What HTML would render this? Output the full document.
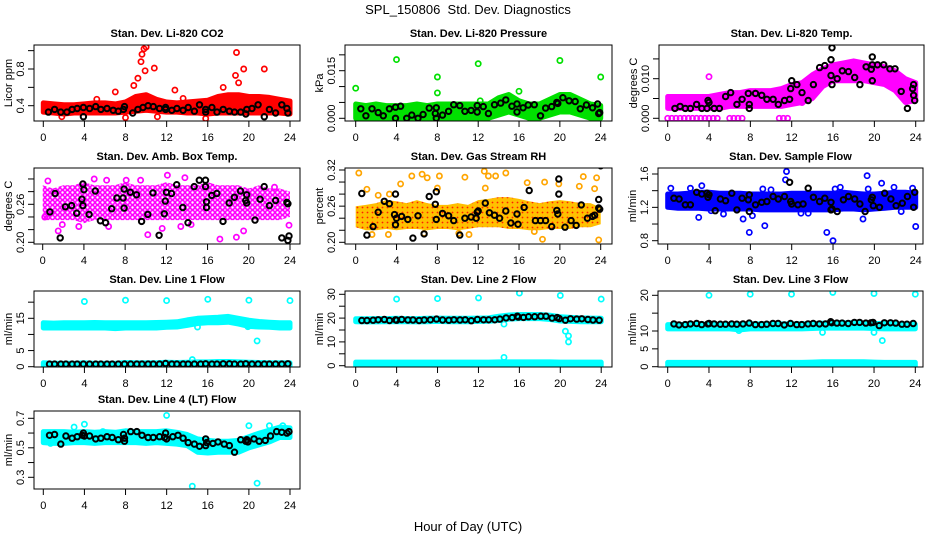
<!DOCTYPE html>
<html><head><meta charset="utf-8"><title>SPL_150806 Std. Dev. Diagnostics</title>
<style>
html,body{margin:0;padding:0;background:#fff;}
svg{display:block;font-family:"Liberation Sans",sans-serif;}
</style></head>
<body>
<svg id="chart" width="936" height="540" viewBox="0 0 936 540" xmlns="http://www.w3.org/2000/svg">
<defs>
<pattern id="patMag" width="5" height="5" patternUnits="userSpaceOnUse"><rect width="5" height="5" fill="#fff"/><circle cx="2.5" cy="2.5" r="2" fill="none" stroke="#ff00ff" stroke-width="1.6"/></pattern>
<pattern id="patRH" width="5" height="5" patternUnits="userSpaceOnUse"><rect width="5" height="5" fill="#ffc000"/><circle cx="2.5" cy="2.5" r="0.9" fill="#ff2000"/></pattern>
</defs>
<text x="468" y="14" text-anchor="middle" font-size="13">SPL_150806&#160; Std. Dev. Diagnostics</text>
<text x="468" y="531" text-anchor="middle" font-size="13">Hour of Day (UTC)</text>
<g id="panels"></g>
</svg>
<script>
const HOURS=[0,1,2,3,4,5,6,7,8,9,10,11,12,13,14,15,16,17,18,19,20,21,22,23,24];
const X_TICKS=[0,4,8,12,16,20,24];

// Panel 1: CO2
const co2Lo=[0.33,0.32,0.31,0.32,0.32,0.32,0.32,0.32,0.33,0.34,0.35,0.34,0.33,0.33,0.32,0.32,0.31,0.32,0.32,0.32,0.32,0.32,0.32,0.32,0.31];
const co2Hi=[0.43,0.42,0.41,0.41,0.42,0.43,0.43,0.42,0.44,0.50,0.52,0.47,0.44,0.43,0.44,0.45,0.46,0.50,0.52,0.52,0.50,0.50,0.49,0.47,0.45];
const co2Out=[[7,0.55],[8.8,0.62],[9.2,0.70],[9.5,0.88],[9.6,0.96],[9.8,1.02],[9.9,0.78],[10,1.04],[10.8,0.81],[12.8,0.57],[18.8,0.98],[18.7,0.73],[19,0.65],[19.5,0.80],[21.5,0.80],[17.5,0.60],[15.8,0.26],[1.8,0.28],[8,0.27],[11.1,0.28],[13.6,0.48],[5.2,0.47]];
const co2Black=[[0.5,0.33],[1.1,0.36],[1.7,0.33],[2.3,0.33],[2.8,0.36],[3.3,0.37],[3.9,0.28],[3.9,0.38],[4.5,0.37],[5.1,0.39],[5.6,0.36],[6.2,0.37],[6.8,0.35],[7.3,0.34],[7.8,0.36],[7.9,0.39],[8.7,0.32],[9.2,0.36],[9.7,0.38],[10.2,0.40],[10.7,0.39],[11.3,0.37],[11.9,0.36],[11.9,0.38],[12.5,0.35],[13.0,0.37],[13.6,0.35],[14.1,0.38],[14.7,0.34],[15.2,0.41],[15.8,0.33],[15.8,0.36],[16.4,0.38],[16.9,0.33],[17.5,0.36],[18.1,0.34],[18.6,0.33],[19.2,0.33],[19.7,0.31],[19.8,0.36],[20.3,0.37],[20.9,0.41],[21.5,0.28],[22.0,0.36],[22.6,0.32],[23.2,0.41],[23.7,0.37],[23.8,0.32]];

// Panel 2: pressure
const pLo=[0,0,0,0,0,0,0,0,0,0,0,0,0,0,0.001,0.002,0.001,0,0,0.001,0.002,0.002,0.001,0,0];
const pHi=[0.0045,0.004,0.0045,0.004,0.004,0.004,0.0045,0.004,0.0045,0.0045,0.0045,0.0045,0.0045,0.0045,0.0065,0.0075,0.0055,0.0045,0.0045,0.006,0.0075,0.0075,0.006,0.0045,0.004];
const pOut=[[0,0.0095],[4,0.0185],[8,0.013],[8,0.008],[12,0.0172],[20,0.0182],[24,0.013],[12.2,0.0055],[16,0.0085]];
const pBlack=[[0.5,0.003],[1,0.0008],[1.6,0.003],[2.2,0.0018],[2.7,0.0008],[3.3,0.003],[3.9,0.0035],[3.9,0],[4.4,0.0038],[5.0,0],[5.5,0.001],[6.1,0],[6.6,0.0012],[7.2,0.0032],[7.8,0.0015],[7.9,0.0033],[7.9,0],[8.5,0.001],[9.1,0.0022],[9.6,0.0043],[10.2,0.004],[10.7,0.0022],[11.3,0.0025],[11.9,0.002],[11.9,0.004],[12.5,0.0037],[13,0.0015],[13.6,0.0043],[14.2,0.0048],[14.7,0.0058],[15.3,0.0038],[15.8,0.0045],[15.8,0.002],[16.4,0.0033],[16.9,0.0042],[17.5,0.0043],[18.1,0.0008],[18.6,0.0032],[19.2,0.0037],[19.7,0.005],[19.8,0.0047],[20.3,0.0065],[20.9,0.0055],[21.5,0.0053],[22,0.003],[22.6,0.0042],[23.2,0.0033],[23.7,0.0045],[23.8,0.0015],[23.9,0.0018]];

// Panel 3: Li-820 temp
const tLo=[0.0025,0.0025,0.0025,0.0025,0.0025,0.0025,0.003,0.003,0.003,0.003,0.003,0.003,0.0035,0.004,0.005,0.008,0.0095,0.0095,0.0095,0.0095,0.009,0.0085,0.007,0.004,0.0045];
const tHi=[0.0055,0.0055,0.0055,0.0055,0.0055,0.006,0.0065,0.0065,0.007,0.007,0.007,0.0075,0.0085,0.009,0.011,0.0125,0.0135,0.014,0.0145,0.014,0.0135,0.013,0.012,0.01,0.009];
const tOut=[[0,0],[0.4,0],[0.8,0],[1.2,0],[1.6,0],[2,0],[2.4,0],[2.8,0],[3.2,0],[3.6,0],[4,0],[4.4,0],[4.8,0],[6,0],[6.4,0],[6.8,0],[7.2,0],[10.8,0],[11.2,0],[11.6,0],[4,0.0105],[13,0.004],[12.6,0.0045]];
const tBlack=[[0.7,0.0025],[1.2,0.003],[1.7,0.0025],[2.2,0.0025],[2.8,0.0035],[3.3,0.0025],[3.8,0.0025],[3.9,0.0045],[4.0,0.004],[4.5,0.0025],[5.0,0.0025],[5.6,0.0055],[6.1,0.0065],[6.7,0.0035],[7.2,0.0048],[7.8,0.0063],[7.9,0.0035],[7.9,0.0025],[8.5,0.0063],[9.1,0.0058],[9.6,0.0048],[10.2,0.0048],[10.7,0.0035],[11.3,0.0045],[11.8,0.0048],[11.9,0.0075],[12,0.0095],[12.5,0.0085],[13,0.0065],[13.6,0.0045],[14.1,0.0085],[14.7,0.0128],[15.2,0.0133],[15.8,0.0108],[15.8,0.0148],[15.9,0.0178],[15.9,0.0085],[16.4,0.01],[16.9,0.012],[17.5,0.0118],[18.1,0.0103],[18.6,0.0085],[19.2,0.013],[19.7,0.0124],[19.8,0.0135],[19.8,0.0155],[19.8,0.0095],[20.3,0.0135],[20.9,0.0135],[21.5,0.0125],[22,0.0125],[22.6,0.0068],[23.2,0.0025],[23.7,0.0075],[23.8,0.0085],[23.9,0.0045],[23.8,0.0058]];

// Panel 4: ambient box temp
const aLo=[0.235,0.235,0.235,0.235,0.23,0.235,0.235,0.235,0.235,0.235,0.235,0.235,0.235,0.235,0.235,0.235,0.235,0.235,0.235,0.235,0.235,0.235,0.235,0.235,0.24];
const aHi=[0.29,0.285,0.29,0.29,0.295,0.29,0.29,0.29,0.295,0.29,0.29,0.29,0.295,0.29,0.29,0.29,0.295,0.29,0.29,0.29,0.285,0.29,0.285,0.285,0.28];
const aOut=[[0.5,0.297],[0.2,0.24],[1.5,0.218],[1.9,0.228],[3.5,0.225],[6.2,0.298],[6.4,0.225],[8.1,0.298],[10.2,0.212],[11.6,0.222],[12.1,0.306],[13.4,0.225],[14.4,0.228],[17.2,0.205],[18.8,0.208],[19.5,0.218],[22.5,0.287],[23.9,0.227],[5,0.3],[13.8,0.302],[9.5,0.298]];
const aBlack=[[0.7,0.248],[1.2,0.277],[1.7,0.207],[2.2,0.256],[2.8,0.258],[3.3,0.246],[3.8,0.268],[3.9,0.292],[3.9,0.258],[4.0,0.283],[4.5,0.244],[5.1,0.281],[5.6,0.234],[6.1,0.231],[6.7,0.253],[7.2,0.27],[7.8,0.27],[7.9,0.284],[7.9,0.254],[8.5,0.279],[9.1,0.275],[9.6,0.233],[10.2,0.244],[10.7,0.278],[11.3,0.211],[11.8,0.245],[11.9,0.265],[12,0.279],[12.5,0.277],[13,0.291],[13.6,0.255],[14.1,0.231],[14.7,0.288],[15.2,0.298],[15.8,0.298],[15.8,0.288],[15.9,0.264],[15.9,0.255],[16.4,0.274],[16.9,0.277],[17.5,0.233],[18.1,0.262],[18.6,0.271],[19.2,0.281],[19.7,0.266],[19.8,0.262],[19.8,0.275],[20.6,0.235],[21.1,0.268],[21.5,0.288],[22,0.258],[22.6,0.266],[23.2,0.207],[23.7,0.263],[23.8,0.203],[23.9,0.21],[23.8,0.261]];

// Panel 5: gas stream RH
const rLo=[0.225,0.22,0.22,0.222,0.22,0.222,0.222,0.22,0.222,0.222,0.22,0.222,0.225,0.225,0.225,0.222,0.222,0.22,0.22,0.222,0.222,0.222,0.225,0.225,0.23];
const rHi=[0.26,0.262,0.265,0.27,0.268,0.265,0.27,0.265,0.262,0.262,0.265,0.262,0.27,0.272,0.275,0.275,0.272,0.268,0.265,0.268,0.27,0.268,0.265,0.265,0.258];
const rOut=[[0.3,0.315],[1.1,0.288],[2.2,0.278],[3.3,0.28],[4.4,0.297],[5.5,0.31],[6.5,0.313],[7,0.307],[8,0.29],[8.2,0.31],[10.7,0.308],[12.6,0.318],[12.7,0.29],[13,0.31],[13.7,0.31],[14.7,0.315],[16.8,0.299],[18.5,0.3],[19.9,0.297],[21.9,0.293],[22.3,0.309],[23.4,0.289],[23.6,0.307],[18.3,0.205],[23.8,0.204],[1.6,0.213],[3.2,0.213],[10.1,0.215],[11.1,0.213],[17.5,0.218],[6.7,0.215]];
const rBlack=[[0.6,0.281],[1.1,0.212],[1.7,0.226],[2.2,0.25],[2.8,0.268],[3.3,0.264],[3.8,0.246],[3.9,0.28],[3.9,0.229],[4.0,0.24],[4.5,0.243],[5.1,0.238],[5.6,0.207],[6.1,0.244],[6.7,0.214],[7.2,0.276],[7.8,0.263],[7.9,0.284],[7.9,0.238],[8.5,0.248],[9.1,0.244],[9.6,0.236],[10.2,0.212],[10.7,0.24],[11.3,0.242],[11.8,0.24],[11.9,0.25],[12,0.252],[12.7,0.265],[13.1,0.249],[13.6,0.245],[14.1,0.24],[14.7,0.252],[15.2,0.232],[15.8,0.247],[15.9,0.23],[16.5,0.258],[17,0.286],[17.6,0.236],[18.1,0.236],[18.6,0.236],[19.2,0.226],[19.7,0.253],[19.8,0.247],[19.9,0.305],[19.9,0.28],[20.5,0.225],[21.1,0.236],[21.6,0.228],[22.1,0.262],[22.7,0.24],[23.2,0.243],[23.4,0.245],[23.8,0.257],[23.8,0.271],[23.9,0.255],[24,0.327]];

// Panel 6: sample flow
const sLo=[1.2,1.19,1.19,1.19,1.18,1.18,1.18,1.18,1.18,1.17,1.17,1.17,1.17,1.17,1.17,1.17,1.17,1.18,1.18,1.17,1.18,1.19,1.2,1.2,1.2];
const sHi=[1.36,1.36,1.37,1.38,1.38,1.37,1.37,1.37,1.36,1.36,1.36,1.36,1.37,1.37,1.37,1.37,1.37,1.38,1.37,1.36,1.36,1.37,1.38,1.38,1.37];
const sOut=[[0.3,1.43],[2.2,1.43],[3,1.08],[3.3,1.46],[5.4,1.12],[7.3,1.06],[7.9,0.9],[8.2,1.1],[9.2,1.42],[9.4,0.98],[10,1.41],[11.4,1.53],[11.5,1.63],[12.9,1.13],[13.6,1.13],[15.4,0.9],[16,0.8],[16.2,1.42],[16.7,1.44],[18.9,1.06],[19.3,1.58],[19.4,1.42],[20.7,1.49],[21.9,1.44],[22.6,1.15],[23.7,1.43],[24,0.97],[4.2,1.16]];
const sBlack=[[0.6,1.31],[1.1,1.3],[1.7,1.23],[2.2,1.23],[2.8,1.38],[3.3,1.36],[3.8,1.37],[3.9,1.32],[4.0,1.35],[4.6,1.16],[5.1,1.3],[5.6,1.28],[6.2,1.37],[6.7,1.17],[7.2,1.31],[7.8,1.29],[7.9,1.15],[7.9,1.35],[8.5,1.23],[9.1,1.26],[9.6,1.27],[10.2,1.33],[10.7,1.3],[11.3,1.33],[11.8,1.5],[11.9,1.27],[12,1.24],[12.6,1.23],[13.1,1.24],[13.6,1.43],[14.1,1.32],[14.7,1.27],[15.2,1.31],[15.8,1.26],[15.8,1.17],[15.9,1.18],[16.4,1.15],[17,1.29],[17.5,1.33],[18.1,1.3],[18.6,1.24],[19.1,1.15],[19.7,1.29],[19.8,1.32],[19.9,1.22],[20.5,1.2],[21,1.37],[21.6,1.3],[22.1,1.22],[22.7,1.25],[23.2,1.33],[23.8,1.2],[23.9,1.38]];

// Panel 7: line 1 flow
const l1Lo=[12,12,12,12,12,12,12,11.8,12,12,12,12,12.2,12.3,12.8,13.4,13.6,13.6,13.8,13.2,12.5,12.3,12.2,12,12];
const l1Hi=[13.6,13.5,13.6,13.6,13.6,13.7,13.6,13.6,13.6,13.6,13.6,13.7,13.8,13.9,14.5,15,15.2,15.3,15.6,15,14.4,14,13.8,13.6,13.6];
const l1LowLo=[0.3,0.3,0.3,0.3,0.3,0.3,0.3,0.3,0.3,0.3,0.3,0.3,0.3,0.3,0.3,0.3,0.3,0.3,0.3,0.3,0.3,0.3,0.3,0.3,0.3];
const l1LowHi=[1.2,1.1,1.1,1.1,1.2,1.1,1.1,1.1,1.3,1.2,1.2,1.2,1.4,1.3,1.4,1.5,1.5,1.6,1.6,1.5,1.4,1.3,1.2,1.2,1.2];
const l1Out=[[4,20.2],[8,20.6],[12,20.5],[16,20.9],[20,20.6],[24,20.5],[20.8,8],[14.5,2.2],[15,12.3],[19.9,12.4]];
const l1Black=[[0.6,0.8],[1.1,0.8],[1.7,0.8],[2.2,0.8],[2.8,0.8],[3.3,0.8],[3.9,0.8],[4.5,0.8],[5.1,0.8],[5.6,0.8],[6.2,0.8],[6.7,0.8],[7.3,0.8],[7.9,0.8],[8.5,0.8],[9.1,0.8],[9.6,0.8],[10.2,0.8],[10.7,0.8],[11.3,0.8],[11.9,1.0],[12.5,0.8],[13.0,0.8],[13.6,0.8],[14.1,0.8],[14.7,0.8],[15.3,0.8],[15.8,0.9],[16.4,0.8],[16.9,0.8],[17.5,0.9],[18.1,0.9],[18.6,0.8],[19.2,0.8],[19.7,0.9],[20.3,0.8],[20.9,0.8],[21.5,0.8],[22.0,0.8],[22.6,0.8],[23.2,0.8],[23.8,0.9]];

// Panel 8: line 2 flow
const l2Lo=[18.5,18.4,18.4,18.5,18.5,18.5,18.4,18.5,18.6,18.5,18.5,18.5,18.6,18.7,19,19.6,19.8,19.8,19.8,19.4,18.8,18.6,18.5,18.5,18.5];
const l2Hi=[19.7,19.7,19.8,19.8,19.9,19.8,19.8,19.9,20,19.9,19.9,19.9,20,20.1,20.8,21.3,21.5,21.5,21.5,21.2,20.6,20.3,20.1,20,19.9];
const l2LowLo=[0,0,0,0,0,0,0,0,0,0,0,0,0,0,0,0,0,0,0,0,0,0,0,0,0];
const l2LowHi=[1.5,1.5,1.5,1.5,1.5,1.5,1.5,1.5,1.5,1.5,1.5,1.5,1.5,1.5,1.6,1.6,1.6,1.6,1.6,1.6,1.5,1.5,1.5,1.5,1.5];
const l2Out=[[4,28],[8,28.2],[12,28.5],[16,30.5],[20,29.5],[24,28],[14.5,17.5],[14.5,3.5],[20.5,14.5],[20.8,12.5],[20.8,10]];
const l2Black=[[0.6,19],[1.1,19],[1.7,19.1],[2.2,19.3],[2.8,19.4],[3.3,19],[3.9,19.3],[4.0,19.1],[4.5,19.4],[5.1,19.2],[5.6,19.2],[6.2,19],[6.7,19.2],[7.3,19.3],[7.9,19.6],[8.5,19.2],[9.1,19.1],[9.6,19.3],[10.2,19.2],[10.7,19.3],[11.3,18.9],[11.9,19.4],[12.5,19.3],[13.0,19.3],[13.6,19.3],[14.1,19.6],[14.7,20.1],[15.3,20.2],[15.8,20.8],[15.9,20.4],[16.4,20.3],[16.9,20.6],[17.5,20.6],[18.1,20.8],[18.6,20.8],[19.2,20],[19.7,20.2],[19.9,19.8],[20.5,19.1],[21,19.7],[21.6,19.6],[22.1,19.7],[22.7,19.4],[23.2,19.2],[23.8,19.1]];

// Panel 9: line 3 flow
const l3Lo=[10.6,10.6,10.6,10.6,10.6,10.6,10.6,10.3,10.6,10.6,10.6,10.6,10.6,10.6,10.7,10.8,10.8,10.8,10.8,10.8,10.7,10.6,10.6,10.6,10.6];
const l3Hi=[11.8,11.8,11.9,12,11.9,11.9,11.9,12,12,12,12,12,12,12,12.1,12.2,12.3,12.3,12.3,12.2,12.1,12.1,12,12,11.9];
const l3LowLo=[0,0,0,0,0,0,0,0,0,0,0,0,0,0,0,0,0,0,0,0,0,0,0,0,0];
const l3LowHi=[1.2,1.2,1.2,1.2,1.2,1.2,1.2,1.2,1.2,1.2,1.2,1.2,1.2,1.2,1.3,1.4,1.4,1.4,1.4,1.4,1.3,1.2,1.2,1.2,1.2];
const l3Out=[[4,20],[8,20.3],[12,20.3],[16,20.8],[20,20.5],[24,20.3],[15,9.6],[20,9.6],[20.8,7.3],[6.9,10.1]];
const l3Black=[[0.6,12],[1.1,11.7],[1.7,11.8],[2.2,12],[2.8,12.1],[3.3,11.8],[3.9,12],[4.0,12.1],[4.5,12],[5.1,11.9],[5.6,11.9],[6.2,12],[6.7,11.9],[7.3,12],[7.9,12.2],[8.5,11.8],[9.1,11.8],[9.6,11.9],[10.2,12.1],[10.7,12.1],[11.3,11.7],[11.9,12.1],[12.5,11.8],[13.0,11.8],[13.6,12],[14.1,12.1],[14.7,12],[15.3,12],[15.8,12.6],[15.9,12.3],[16.4,12.2],[16.9,12.2],[17.5,12.1],[18.1,12.4],[18.6,12.4],[19.2,12.2],[19.7,12.3],[19.9,12.4],[20.5,11.5],[21,12.3],[21.6,12.3],[22.1,12.2],[22.7,11.9],[23.2,11.9],[23.8,12.1]];

// Panel 10: line 4 (LT) flow
const l4Lo=[0.535,0.53,0.53,0.535,0.535,0.53,0.535,0.535,0.535,0.535,0.53,0.535,0.53,0.525,0.515,0.47,0.465,0.47,0.47,0.47,0.5,0.52,0.54,0.57,0.57];
const l4Hi=[0.61,0.61,0.61,0.605,0.61,0.605,0.61,0.605,0.615,0.61,0.61,0.61,0.615,0.605,0.59,0.56,0.55,0.545,0.545,0.55,0.575,0.6,0.62,0.64,0.635];
const l4Out=[[3,0.64],[4,0.66],[12,0.72],[14.5,0.24],[20,0.65],[20.8,0.26],[22,0.65],[23.3,0.65],[5.8,0.61],[0.7,0.53]];
const l4Black=[[0.6,0.585],[1.1,0.59],[1.7,0.525],[2.2,0.58],[2.8,0.565],[3.3,0.575],[3.8,0.585],[3.9,0.6],[4.0,0.58],[4.5,0.58],[5.1,0.56],[5.6,0.565],[6.2,0.575],[6.7,0.57],[7.3,0.555],[7.8,0.59],[7.9,0.545],[7.9,0.565],[8.5,0.61],[9.1,0.61],[9.6,0.585],[10.2,0.57],[10.7,0.57],[11.3,0.575],[11.8,0.57],[11.9,0.6],[12,0.56],[12.6,0.575],[13.1,0.585],[13.6,0.565],[14.1,0.535],[14.7,0.525],[15.2,0.51],[15.8,0.515],[15.8,0.56],[15.9,0.535],[16.5,0.53],[17,0.54],[17.6,0.525],[18.1,0.515],[18.6,0.47],[19.2,0.555],[19.7,0.545],[19.8,0.555],[19.9,0.54],[20.5,0.56],[21,0.545],[21.6,0.55],[22.1,0.58],[22.7,0.61],[23.2,0.605],[23.7,0.6],[23.9,0.61]];

const NS="http://www.w3.org/2000/svg";
const root=document.getElementById('panels');
function mk(tag,attrs,parent){const e=document.createElementNS(NS,tag);for(const k in attrs)e.setAttribute(k,attrs[k]);(parent||root).appendChild(e);return e;}

const panels=[
 {title:"Stan. Dev. Li-820 CO2",ylab:"Licor ppm",box:[34,45,300,121],x0:43.3,x24:290,ya:[0.4,105.7],yb:[0.8,69],ticks:[0.4,0.6,0.8,1.0],labels:["0.4","","0.8",""],color:"#ff0000",lo:co2Lo,hi:co2Hi,out:co2Out,black:co2Black,fill:"#ff0000"},
 {title:"Stan. Dev. Li-820 Pressure",ylab:"kPa",box:[345,45,612,121],x0:355.7,x24:600.7,ya:[0,118.3],yb:[0.015,70.7],ticks:[0,0.005,0.01,0.015,0.02],labels:["0.000","","","0.015",""],color:"#00e000",lo:pLo,hi:pHi,out:pOut,black:pBlack,fill:"#00e000"},
 {title:"Stan. Dev. Li-820 Temp.",ylab:"degrees C",box:[659,45,924,121],x0:667.7,x24:915.7,ya:[0,118.3],yb:[0.01,78.7],ticks:[0,0.005,0.01,0.015],labels:["0.000","","0.010",""],color:"#ff00ff",lo:tLo,hi:tHi,out:tOut,black:tBlack,fill:"#ff00ff"},
 {title:"Stan. Dev. Amb. Box Temp.",ylab:"degrees C",box:[34,168,300,244],x0:42.7,x24:290,ya:[0.2,242.3],yb:[0.26,204.3],ticks:[0.2,0.22,0.24,0.26,0.28,0.3],labels:["0.20","","","0.26","",""],color:"#ff00ff",lo:aLo,hi:aHi,out:aOut,black:aBlack,fill:"url(#patMag)",textured:true},
 {title:"Stan. Dev. Gas Stream RH",ylab:"percent",box:[345,168,612,244],x0:355.7,x24:600.7,ya:[0.2,242.3],yb:[0.32,170],ticks:[0.2,0.22,0.24,0.26,0.28,0.3,0.32],labels:["0.20","","","0.26","","","0.32"],color:"#ffa500",lo:rLo,hi:rHi,out:rOut,black:rBlack,fill:"url(#patRH)",textured:true},
 {title:"Stan. Dev. Sample Flow",ylab:"ml/min",box:[658,168,923,244],x0:667.7,x24:915.7,ya:[0.8,240.7],yb:[1.6,174],ticks:[0.8,1.0,1.2,1.4,1.6],labels:["0.8","","1.2","","1.6"],color:"#0000ff",lo:sLo,hi:sHi,out:sOut,black:sBlack,fill:"#0000ff"},
 {title:"Stan. Dev. Line 1 Flow",ylab:"ml/min",box:[34,291,300,367],x0:43.3,x24:290,ya:[0,366.7],yb:[15,318.3],ticks:[0,5,10,15,20],labels:["0","5","","15",""],color:"#00ffff",lo:l1Lo,hi:l1Hi,lo2:l1LowLo,hi2:l1LowHi,out:l1Out,black:l1Black,fill:"#00ffff"},
 {title:"Stan. Dev. Line 2 Flow",ylab:"ml/min",box:[345,291,612,367],x0:355.7,x24:601.2,ya:[0,365.7],yb:[30,294.3],ticks:[0,5,10,15,20,25,30],labels:["0","","10","","20","","30"],color:"#00ffff",lo:l2Lo,hi:l2Hi,lo2:l2LowLo,hi2:l2LowHi,out:l2Out,black:l2Black,fill:"#00ffff"},
 {title:"Stan. Dev. Line 3 Flow",ylab:"ml/min",box:[658,291,923,367],x0:667.7,x24:915.3,ya:[0,366.7],yb:[20,295.3],ticks:[0,5,10,15,20],labels:["0","5","10","","20"],color:"#00ffff",lo:l3Lo,hi:l3Hi,lo2:l3LowLo,hi2:l3LowHi,out:l3Out,black:l3Black,fill:"#00ffff"},
 {title:"Stan. Dev. Line 4 (LT) Flow",ylab:"ml/min",box:[34,411,300,489],x0:43.3,x24:290,ya:[0.3,477.3],yb:[0.7,418.3],ticks:[0.3,0.4,0.5,0.6,0.7],labels:["0.3","","0.5","","0.7"],color:"#00ffff",lo:l4Lo,hi:l4Hi,out:l4Out,black:l4Black,fill:"#00ffff"}
];

function slug(s){return s.toLowerCase().replace(/[^a-z0-9]+/g,'-').replace(/^-|-$/g,'');}

panels.forEach(p=>{
  const name=slug(p.title.replace('Stan. Dev. ',''));
  const g=mk('g',{});
  
  
  const [L,T,R,B]=p.box;
  const xs=h=>p.x0+h*(p.x24-p.x0)/24;
  const ys=v=>p.ya[1]+(v-p.ya[0])*(p.yb[1]-p.ya[1])/(p.yb[0]-p.ya[0]);
  const cid='clip-'+name;
  const cp=mk('clipPath',{id:cid},g);mk('rect',{x:L,y:T,width:R-L,height:B-T},cp);
  const plot=mk('g',{'clip-path':'url(#'+cid+')'},g);
  
  
  function band(lo,hi,bname){
    let pts=[];
    HOURS.forEach((h,i)=>pts.push(xs(h).toFixed(1)+','+ys(hi[i]).toFixed(1)));
    for(let i=HOURS.length-1;i>=0;i--)pts.push(xs(HOURS[i]).toFixed(1)+','+ys(lo[i]).toFixed(1));
    const attrs={points:pts.join(' '),fill:p.fill};
    if(p.textured){attrs.stroke='none';}else{attrs.stroke=p.color;attrs['stroke-width']=5;attrs['stroke-linejoin']='round';}
    const poly=mk('polygon',attrs,plot);
    
    
  }
  band(p.lo,p.hi,name+'-point-cloud');
  if(p.lo2)band(p.lo2,p.hi2,name+'-low-point-cloud');
  p.out.forEach(d=>{
    const c=mk('circle',{cx:xs(d[0]).toFixed(1),cy:ys(d[1]).toFixed(1),r:2.6,fill:'none',stroke:p.color,'stroke-width':1.7},plot);
    
    
  });
  p.black.forEach(d=>{
    const c=mk('circle',{cx:xs(d[0]).toFixed(1),cy:ys(d[1]).toFixed(1),r:2.7,fill:'none',stroke:'#000','stroke-width':2},plot);
    
    
  });
  const bx=mk('rect',{x:L,y:T,width:R-L,height:B-T,fill:'none',stroke:'#000','stroke-width':1},g);
  
  
  const t=mk('text',{x:(L+R)/2,y:T-8,'text-anchor':'middle','font-size':11,'font-weight':'bold'},g);
  t.textContent=p.title;
  
  
  const xa=mk('g',{},g);
  
  
  mk('line',{x1:xs(0),x2:xs(24),y1:B,y2:B,stroke:'#000'},xa);
  X_TICKS.forEach(h=>{
    mk('line',{x1:xs(h),x2:xs(h),y1:B,y2:B+6,stroke:'#000'},xa);
    const lb=mk('text',{x:xs(h),y:B+20,'text-anchor':'middle','font-size':11},xa);
    lb.textContent=h;
    
    
  });
  const ya=mk('g',{},g);
  
  
  mk('line',{x1:L,x2:L,y1:ys(p.ticks[0]),y2:ys(p.ticks[p.ticks.length-1]),stroke:'#000'},ya);
  p.ticks.forEach((v,i)=>{
    const y=ys(v);
    mk('line',{x1:L-6,x2:L,y1:y,y2:y,stroke:'#000'},ya);
    if(p.labels[i]){
      const lb=mk('text',{x:L-10,y:y,'text-anchor':'middle','font-size':11,transform:'rotate(-90 '+(L-10)+' '+y+')'},ya);
      lb.textContent=p.labels[i];
      
      
    }
  });
  const yl=mk('text',{x:L-22,y:(T+B)/2,'text-anchor':'middle','font-size':11,transform:'rotate(-90 '+(L-22)+' '+((T+B)/2)+')'},g);
  yl.textContent=p.ylab;
  
  
});
</script>
</body></html>
